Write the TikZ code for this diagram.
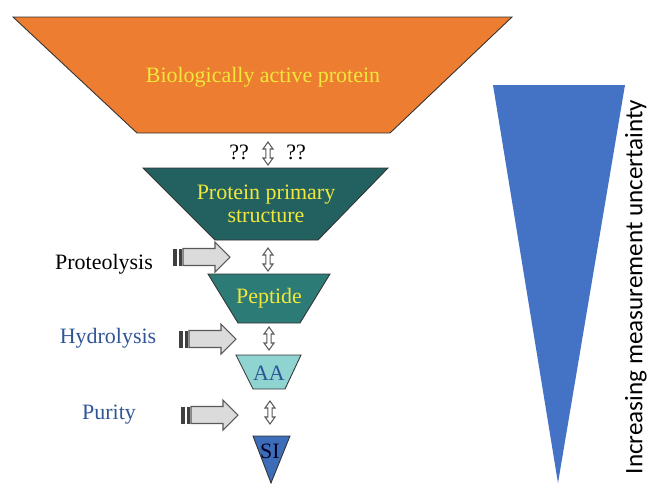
\documentclass[tikz,border=0pt]{standalone}
\usepackage{fontspec}
\setmainfont{Liberation Serif}
\newfontfamily\sidefont{Carlito}
\usetikzlibrary{arrows.meta}

\definecolor{bioorange}{HTML}{ED7D31}
\definecolor{darkteal}{HTML}{236160}
\definecolor{midteal}{HTML}{2D7B77}
\definecolor{lightteal}{HTML}{8FD4D1}
\definecolor{siblue}{HTML}{3D6DB8}
\definecolor{trueblue}{HTML}{4472C4}
\definecolor{labelblue}{HTML}{2F5597}
\definecolor{txtyellow}{HTML}{F0E83A}

\tikzset{
  level/.style={draw=black!80, line width=0.5pt},
  levtext/.style={font=\fontsize{12.5}{15}\selectfont, align=center},
  steptext/.style={font=\fontsize{12.5}{15}\selectfont},
  updown/.style={draw=black!65, fill=white, line width=0.6pt, line join=miter},
  stripe/.style={fill=black!75},
  blockbody/.style={fill=black!14, draw=black!65, line width=0.6pt},
}

\begin{document}
\begin{tikzpicture}[x=0.02cm, y=-0.02cm]
\useasboundingbox (0,0) rectangle (647,485);

% funnel
\filldraw[level, fill=bioorange] (13,17) -- (512,17) -- (390,133) -- (137,133) -- cycle;
\node[levtext, text=txtyellow] (bio) at (263,77) {Biologically active protein};

\filldraw[level, fill=darkteal] (143,168) -- (388,168) -- (318,240) -- (215,240) -- cycle;
\node[levtext, text=txtyellow] (prim) at (266,204) {Protein primary\\[-2pt]structure};

\filldraw[level, fill=midteal] (208,274) -- (330,274) -- (300,323) -- (238,323) -- cycle;
\node[levtext, text=txtyellow] (pep) at (269,298) {Peptide};

\filldraw[level, fill=lightteal] (236,355) -- (301,355) -- (285,389) -- (253,389) -- cycle;
\node[levtext, text=labelblue] (aa) at (269,373) {AA};

\filldraw[level, fill=siblue] (253,436) -- (290,436) -- (271,483) -- cycle;
\node[levtext, text=black!85!blue] (si) at (270,451) {SI};

% up-down arrows between the levels (top tip of each)
\coordinate (u1) at (268,142);
\coordinate (u2) at (268,248);
\coordinate (u3) at (269,327);
\coordinate (u4) at (270,401);
\foreach \i in {1,...,4}
  \filldraw[updown, shift={(u\i)}] (0,0) -- (5,7) -- (2.2,7) -- (2.2,16) -- (5,16)
    -- (0,23) -- (-5,16) -- (-2.2,16) -- (-2.2,7) -- (-5,7) -- cycle;

\node[steptext] (qa) at (239,152) {??};
\node[steptext] (qb) at (296,152) {??};

% striped block arrows
\foreach \x/\y in {173/257, 179/339, 181/415} {
  \fill[stripe] (\x,{\y-8.5}) rectangle ({\x+4},{\y+8.5});
  \fill[stripe] ({\x+6},{\y-8.5}) rectangle ({\x+8.5},{\y+8.5});
  \filldraw[blockbody] ({\x+10},{\y-8.5}) -- ({\x+42},{\y-8.5}) -- ({\x+42},{\y-15})
    -- ({\x+57},\y) -- ({\x+42},{\y+15}) -- ({\x+42},{\y+8.5})
    -- ({\x+10},{\y+8.5}) -- cycle;
}

\node[steptext] (prot) at (104,264) {Proteolysis};
\node[steptext, text=labelblue] (hyd) at (108,338) {Hydrolysis};
\node[steptext, text=labelblue] (pur) at (109,415) {Purity};

% uncertainty wedge
\fill[trueblue] (493,85) -- (625,85) -- (558,483) -- cycle;
\node[rotate=90, font=\sidefont\fontsize{14.3}{17}\selectfont] (unc) at (636,287)
  {Increasing measurement uncertainty};
\end{tikzpicture}
\end{document}
